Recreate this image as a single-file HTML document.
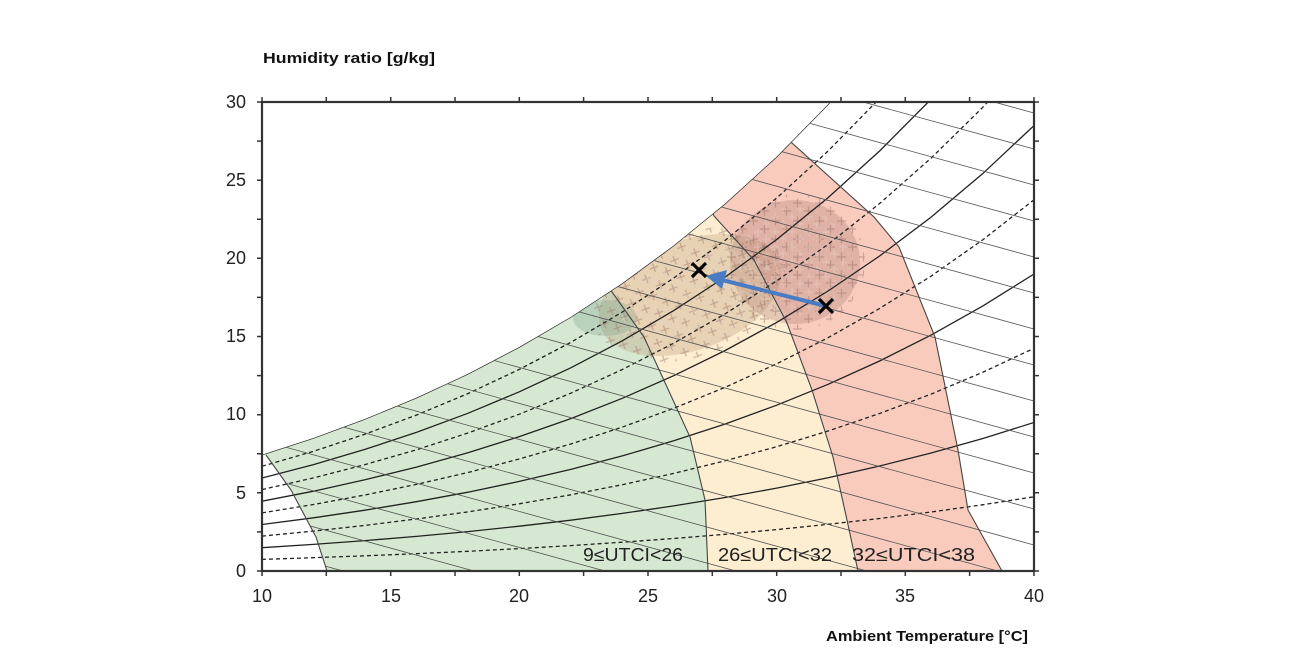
<!DOCTYPE html>
<html><head><meta charset="utf-8"><style>
html,body{margin:0;padding:0;background:#fff;width:1300px;height:669px;overflow:hidden;}
svg{display:block;font-family:"Liberation Sans",sans-serif;}
</style></head><body>
<svg width="1300" height="669" viewBox="0 0 1300 669" xmlns="http://www.w3.org/2000/svg">
<defs>
<clipPath id="pr"><rect x="262" y="102" width="772" height="469"/></clipPath>
<clipPath id="sat"><path d="M262,571 L262,454.7 L313.5,438 L364.9,419 L416.4,397.8 L467.9,373.9 L519.3,347 L570.8,317 L622.3,283.2 L673.7,245.5 L725.2,203.5 L776.7,156.6 L828.1,104.3 L879.6,46 L931.1,-18.8 L982.5,-91 L1034,-171.4 L1034,571 Z"/></clipPath>
<clipPath id="lb"><path d="M262,-200 L262,452 L266,455 L291,490 L316,537 L327,571 L1034,571 L1034,-200 Z"/></clipPath>
<pattern id="pl" width="22" height="18" patternUnits="userSpaceOnUse">
<path d="M1,5h9M5.5,0.5v9M12,13h9M16.5,8.5v9" stroke="rgba(150,110,100,0.45)" stroke-width="1.3" fill="none"/>
</pattern>
<pattern id="pl2" width="17" height="15" patternUnits="userSpaceOnUse" patternTransform="translate(5 3)">
<path d="M1,4h8M5,0v8M9,11h8M13,7v8" stroke="rgba(230,210,200,0.45)" stroke-width="1.2" fill="none"/>
</pattern>
</defs>
<g clip-path="url(#pr)"><g clip-path="url(#sat)">
<path d="M250,425 L262,452 L266,455 L291,490 L316,537 L327,571 L708,571 L705,500 L690,437 L644,337 L612,292 L570,200 L250,200 Z" fill="#d6e8d1"/>
<path d="M262,452 L266,455 L291,490 L316,537 L327,571 L262,571 Z" fill="#fff"/>
<path d="M570,200 L612,292 L644,337 L690,437 L705,500 L708,571 L858,571 L847,520 L833,457 L812,390 L787,323 L754,260 L714,216 L690,160 Z" fill="#fdedd1"/>
<path d="M690,160 L714,216 L754,260 L787,323 L812,390 L833,457 L847,520 L858,571 L1002,571 L968,510 L958,450 L935,337 L899,247 L874,217 L792,143 L760,95 Z" fill="#f8cbbd"/>
<ellipse cx="690" cy="295" rx="95" ry="55" fill="#b89470" opacity="0.3" transform="rotate(-20 690 295)"/>
<ellipse cx="795" cy="262" rx="65" ry="62" fill="#a8786e" opacity="0.3"/>
<ellipse cx="605" cy="318" rx="32" ry="18" fill="#6f9a80" opacity="0.28"/>
<ellipse cx="690" cy="295" rx="100" ry="62" fill="url(#pl)" transform="rotate(-20 690 295)"/>
<ellipse cx="795" cy="262" rx="70" ry="68" fill="url(#pl)"/>
<ellipse cx="700" cy="300" rx="85" ry="45" fill="url(#pl2)" transform="rotate(-20 700 300)"/>
<ellipse cx="795" cy="262" rx="55" ry="55" fill="url(#pl2)"/>
<g fill="none" stroke="#222" stroke-width="1.3">
<polyline stroke-dasharray="4,3" points="262,559.4 313.5,557.7 364.9,555.8 416.4,553.7 467.9,551.3 519.3,548.6 570.8,545.6 622.3,542.2 673.7,538.5 725.2,534.3 776.7,529.6 828.1,524.3 879.6,518.5 931.1,512 982.5,504.8 1034,496.8"/>
<polyline points="262,547.7 313.5,544.4 364.9,540.6 416.4,536.4 467.9,531.6 519.3,526.2 570.8,520.2 622.3,513.4 673.7,505.9 725.2,497.5 776.7,488.1 828.1,477.7 879.6,466 931.1,453 982.5,438.6 1034,422.5"/>
<polyline stroke-dasharray="4,3" points="262,536.1 313.5,531.1 364.9,525.4 416.4,519 467.9,511.9 519.3,503.8 570.8,494.8 622.3,484.7 673.7,473.4 725.2,460.8 776.7,446.7 828.1,431 879.6,413.5 931.1,394.1 982.5,372.4 1034,348.3"/>
<polyline points="262,524.5 313.5,517.8 364.9,510.2 416.4,501.7 467.9,492.2 519.3,481.4 570.8,469.4 622.3,455.9 673.7,440.8 725.2,424 776.7,405.2 828.1,384.3 879.6,361 931.1,335.1 982.5,306.2 1034,274"/>
<polyline stroke-dasharray="4,3" points="262,512.9 313.5,504.5 364.9,495 416.4,484.4 467.9,472.5 519.3,459 570.8,444 622.3,427.1 673.7,408.3 725.2,387.3 776.7,363.8 828.1,337.7 879.6,308.5 931.1,276.1 982.5,240 1034,199.8"/>
<polyline points="262,501.2 313.5,491.2 364.9,479.8 416.4,467.1 467.9,452.7 519.3,436.6 570.8,418.6 622.3,398.3 673.7,375.7 725.2,350.5 776.7,322.4 828.1,291 879.6,256 931.1,217.1 982.5,173.8 1034,125.6"/>
<polyline stroke-dasharray="4,3" points="262,489.6 313.5,477.9 364.9,464.6 416.4,449.8 467.9,433 519.3,414.2 570.8,393.2 622.3,369.5 673.7,343.2 725.2,313.8 776.7,280.9 828.1,244.3 879.6,203.5 931.1,158.1 982.5,107.6 1034,51.3"/>
<polyline points="262,478 313.5,464.6 364.9,449.4 416.4,432.4 467.9,413.3 519.3,391.8 570.8,367.8 622.3,340.8 673.7,310.6 725.2,277 776.7,239.5 828.1,197.6 879.6,151 931.1,99.2 982.5,41.4 1034,-22.9"/>
<polyline stroke-dasharray="4,3" points="262,466.3 313.5,451.3 364.9,434.2 416.4,415.1 467.9,393.6 519.3,369.4 570.8,342.4 622.3,312 673.7,278.1 725.2,240.3 776.7,198 828.1,151 879.6,98.5 931.1,40.2 982.5,-24.8 1034,-97.2"/>
<polyline points="262,454.7 313.5,438 364.9,419 416.4,397.8 467.9,373.9 519.3,347 570.8,317 622.3,283.2 673.7,245.5 725.2,203.5 776.7,156.6 828.1,104.3 879.6,46 931.1,-18.8"/>
</g>
<g stroke="#555" stroke-width="0.8" clip-path="url(#lb)">
<line x1="262" y1="-99.3" x2="1034" y2="113"/><line x1="262" y1="-63.3" x2="1034" y2="149"/>
<line x1="262" y1="-27.3" x2="1034" y2="185"/><line x1="262" y1="8.7" x2="1034" y2="221"/>
<line x1="262" y1="44.7" x2="1034" y2="257"/><line x1="262" y1="80.7" x2="1034" y2="293"/>
<line x1="262" y1="116.7" x2="1034" y2="329"/><line x1="262" y1="152.7" x2="1034" y2="365"/>
<line x1="262" y1="188.7" x2="1034" y2="401"/><line x1="262" y1="224.7" x2="1034" y2="437"/>
<line x1="262" y1="260.7" x2="1034" y2="473"/><line x1="262" y1="296.7" x2="1034" y2="509"/>
<line x1="262" y1="332.7" x2="1034" y2="545"/><line x1="262" y1="368.7" x2="1034" y2="581"/>
<line x1="262" y1="404.7" x2="1034" y2="617"/><line x1="262" y1="440.7" x2="1034" y2="653"/>
<line x1="262" y1="476.7" x2="1034" y2="689"/><line x1="262" y1="512.7" x2="1034" y2="725"/>
<line x1="262" y1="548.7" x2="1034" y2="761"/>
</g>
<g fill="none" stroke="#444" stroke-width="1.1">
<polyline points="266,455 291,490 316,537 327,571"/>
<polyline points="570,200 612,292 644,337 690,437 705,500 708,571"/>
<polyline points="690,160 714,216 754,260 787,323 812,390 833,457 847,520 858,571"/>
<polyline points="760,95 792,143 874,217 899,247 935,337 958,450 968,510 1002,571"/>
</g>
</g></g>
<line x1="826" y1="306" x2="722" y2="280" stroke="#4a7cc4" stroke-width="4"/>
<path d="M706,276 L727,270 L722,289 Z" fill="#4a7cc4"/>
<path d="M692,263 L706,277 M706,263 L692,277 M819,299 L833,313 M833,299 L819,313" stroke="#000" stroke-width="3.2"/>
<rect x="262" y="102" width="772" height="469" fill="none" stroke="#333" stroke-width="2.2"/>
<path stroke="#333" stroke-width="1.5" fill="none" d="
M262,571v5M326.3,571v5M390.7,571v5M455,571v5M519.3,571v5M583.6,571v5M648,571v5M712.3,571v5M776.7,571v5M841,571v5M905.3,571v5M969.6,571v5M1034,571v5
M262,102v-5M326.3,102v-5M390.7,102v-5M455,102v-5M519.3,102v-5M583.6,102v-5M648,102v-5M712.3,102v-5M776.7,102v-5M841,102v-5M905.3,102v-5M969.6,102v-5M1034,102v-5
M262,571h-5M262,531.9h-5M262,492.8h-5M262,453.8h-5M262,414.7h-5M262,375.6h-5M262,336.5h-5M262,297.4h-5M262,258.3h-5M262,219.3h-5M262,180.2h-5M262,141.1h-5M262,102h-5
M1034,571h5M1034,531.9h5M1034,492.8h5M1034,453.8h5M1034,414.7h5M1034,375.6h5M1034,336.5h5M1034,297.4h5M1034,258.3h5M1034,219.3h5M1034,180.2h5M1034,141.1h5M1034,102h5"/>
<g font-size="18" fill="#222" text-anchor="end">
<text x="246" y="108">30</text><text x="246" y="186">25</text><text x="246" y="264">20</text>
<text x="246" y="342">15</text><text x="246" y="420">10</text><text x="246" y="499">5</text><text x="246" y="577">0</text>
</g>
<g font-size="18" fill="#222" text-anchor="middle">
<text x="262" y="602">10</text><text x="391" y="602">15</text><text x="519" y="602">20</text><text x="648" y="602">25</text>
<text x="777" y="602">30</text><text x="905" y="602">35</text><text x="1034" y="602">40</text>
</g>
<text x="263" y="63" font-size="15" font-weight="bold" fill="#111" textLength="172" lengthAdjust="spacingAndGlyphs">Humidity ratio [g/kg]</text>
<text x="826" y="641" font-size="15" font-weight="bold" fill="#111" textLength="202" lengthAdjust="spacingAndGlyphs">Ambient Temperature [°C]</text>
<g font-size="18" fill="#222">
<text x="583" y="561" textLength="100" lengthAdjust="spacingAndGlyphs">9≤UTCI&lt;26</text>
<text x="718" y="561" textLength="114" lengthAdjust="spacingAndGlyphs">26≤UTCI&lt;32</text>
<text x="852" y="561" textLength="123" lengthAdjust="spacingAndGlyphs">32≤UTCI&lt;38</text>
</g>
</svg>
</body></html>
